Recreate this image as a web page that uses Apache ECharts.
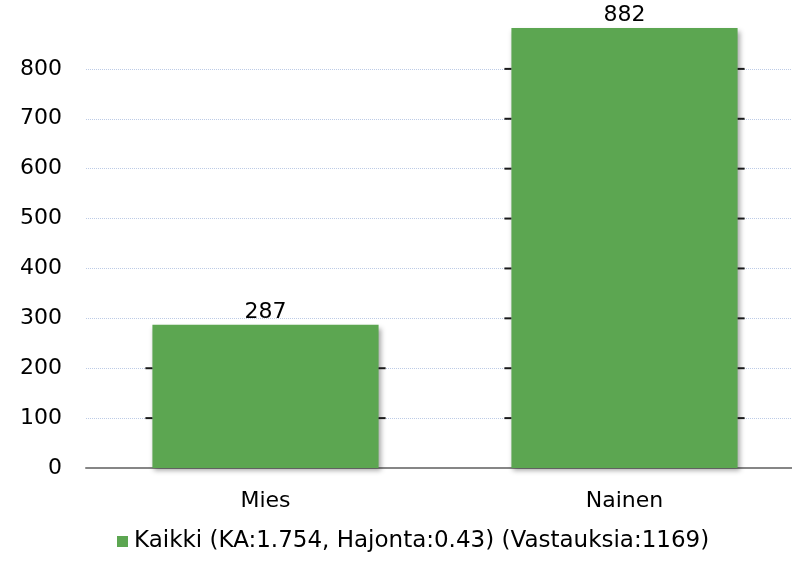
<!DOCTYPE html>
<html>
<head>
<meta charset="utf-8">
<script src="https://cdn.jsdelivr.net/npm/echarts@6/dist/echarts.min.js"></script>
<style>
  html, body { margin: 0; padding: 0; background: #fff; }
  #chart { width: 792px; height: 571px; }
</style>
</head>
<body>
<div id="chart"></div>
<script>
const categories = ['Mies', 'Nainen']
const values = [287, 882]
const seriesName = 'Kaikki (KA:1.754, Hajonta:0.43) (Vastauksia:1169)'
const yTicks = [0, 100, 200, 300, 400, 500, 600, 700, 800]

// the little black stubs where gridlines meet the bar edges
const stubs = []
values.forEach((v, i) => {
  yTicks.forEach(t => {
    if (t > 0 && t < v) stubs.push([i, t])
  })
})

const font = 'DejaVu Sans'
const myChart = echarts.init(document.getElementById('chart'))
myChart.setOption({
  backgroundColor: '#fff',
  animation: false,
  grid: {
    left: 86,
    right: -12,
    top: 19,
    bottom: 103,
    outerBoundsMode: 'none',
    containLabel: false,
  },
  legend: {
    bottom: 13,
    left: 112,
    itemWidth: 11,
    itemHeight: 11,
    itemGap: 0,
    icon: 'rect',
    data: [seriesName],
    textStyle: { color: '#000', fontSize: 23, fontFamily: font, padding: [0, 0, 0, 1] },
  },
  xAxis: {
    type: 'category',
    data: categories,
    axisLine: { show: true, lineStyle: { color: '#868686', width: 2 } },
    axisTick: { show: false },
    axisLabel: { color: '#000', fontSize: 22, fontFamily: font, margin: 22 },
  },
  yAxis: {
    type: 'value',
    min: 0,
    max: 900,
    interval: 100,
    axisLine: { show: false },
    axisTick: { show: false },
    axisLabel: {
      color: '#000',
      fontSize: 22,
      fontFamily: font,
      margin: 24,
      formatter: v => (yTicks.includes(v) ? String(v) : ''),
    },
    splitLine: {
      show: true,
      lineStyle: {
        type: 'dotted',
        width: 1,
        color: ['#bccbe6', '#bccbe6', '#bccbe6', '#bccbe6', '#bccbe6',
          '#bccbe6', '#bccbe6', '#bccbe6', '#bccbe6', 'rgba(0,0,0,0)'],
      },
    },
  },
  series: [
    {
      name: seriesName,
      type: 'bar',
      data: values,
      barWidth: '63%',
      z: 3,
      itemStyle: {
        color: '#5ca651',
        shadowBlur: 5,
        shadowColor: 'rgba(0,0,0,0.35)',
        shadowOffsetX: 2,
        shadowOffsetY: 3,
      },
      label: {
        show: true,
        position: 'top',
        distance: 2,
        color: '#000',
        fontSize: 22,
        fontFamily: font,
      },
    },
    {
      type: 'custom',
      z: 4,
      silent: true,
      data: stubs,
      renderItem: (params, api) => {
        const c = api.coord([api.value(0), api.value(1)])
        const half = api.size([1, 0])[0] * 0.63 / 2
        const style = { stroke: '#1a1a1a', lineWidth: 2 }
        return {
          type: 'group',
          children: [
            { type: 'line', shape: { x1: c[0] - half - 7, y1: c[1], x2: c[0] - half, y2: c[1] }, style },
            { type: 'line', shape: { x1: c[0] + half, y1: c[1], x2: c[0] + half + 7, y2: c[1] }, style },
          ],
        }
      },
    },
  ],
})
</script>
</body>
</html>
